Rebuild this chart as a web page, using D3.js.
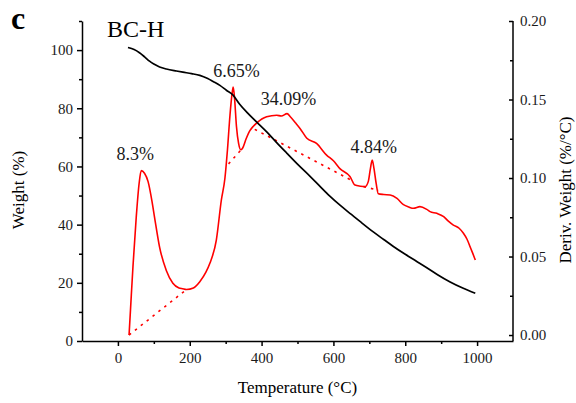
<!DOCTYPE html>
<html>
<head>
<meta charset="utf-8">
<script src="https://cdn.jsdelivr.net/npm/d3@7"></script>
<style>
  body { margin: 0; background: #fff; }
  .axis path, .axis line { stroke: #000; stroke-width: 1.5; }
</style>
</head>
<body>
<div id="chart"></div>
<script>
const serif = '"Liberation Serif", "Times New Roman", Times, serif';

// TGA curve (weight %, left axis)
const tgaTemp   = [28, 45, 60, 75, 88, 100, 116, 135, 163, 181, 205, 228, 250, 265, 285, 302, 320, 339, 360, 386, 415, 442, 470, 500, 535, 560, 590, 620, 650, 674, 711, 740, 767, 800, 830, 860, 890, 925, 960, 995];
const tgaWeight = [100.9, 100.2, 99.1, 97.6, 96.2, 95.2, 94.2, 93.5, 92.8, 92.4, 91.9, 91.3, 90.2, 89.2, 87.8, 86.2, 84.6, 81.4, 78.5, 75.3, 71.8, 68.2, 64.6, 60.8, 56.6, 53.5, 49.8, 46.5, 43.5, 41.1, 37.5, 34.9, 32.5, 29.8, 27.5, 25.2, 22.8, 20.3, 18.2, 16.4];

// DTG curve (deriv. weight %/°C, right axis)
const dtgTemp  = [31, 35, 42, 51, 59, 65, 74, 84, 95, 102, 116, 135, 153, 170, 180, 191, 210, 228, 245, 256, 274, 288, 298, 305, 312, 318, 321, 325, 330, 336, 342, 347, 357, 367, 377, 386, 414, 442, 455, 471, 480, 495, 507, 526, 553, 581, 600, 618, 646, 660, 675, 688, 697, 703, 708, 713, 719, 725, 740, 758, 777, 795, 810, 823, 841, 860, 869, 888, 907, 920, 934, 950, 962, 972, 981, 988, 995];
const dtgDeriv = [0.000, 0.016, 0.044, 0.075, 0.0965, 0.1047, 0.103, 0.0977, 0.085, 0.075, 0.056, 0.041, 0.033, 0.030, 0.0295, 0.029, 0.030, 0.034, 0.040, 0.0457, 0.0605, 0.086, 0.100, 0.118, 0.140, 0.154, 0.158, 0.150, 0.133, 0.122, 0.118, 0.119, 0.125, 0.130, 0.133, 0.135, 0.139, 0.140, 0.1395, 0.141, 0.139, 0.135, 0.1316, 0.1253, 0.122, 0.1146, 0.111, 0.106, 0.101, 0.0955, 0.0948, 0.0945, 0.0977, 0.106, 0.1115, 0.106, 0.0966, 0.090, 0.0895, 0.0892, 0.087, 0.083, 0.0815, 0.0807, 0.0818, 0.080, 0.0786, 0.0775, 0.0754, 0.0725, 0.070, 0.068, 0.0648, 0.061, 0.056, 0.052, 0.0478];

// dotted baselines under each DTG peak: [T1, D1, T2, D2]
const baselines = [
    [31, 0.000, 191, 0.029],
    [308, 0.109, 347, 0.119],
    [381, 0.131, 655, 0.098],
    [684, 0.0945, 725, 0.0923]
];

// peak labels: text, temperature, deriv value at baseline of text
const peakLabels = ["8.3%", "6.65%", "34.09%", "4.84%"];
const peakLabelT = [48, 330, 475, 712];
const peakLabelD = [0.1115, 0.1645, 0.1465, 0.1157];

const xTicks  = [0, 200, 400, 600, 800, 1000];
const yTicks  = [0, 20, 40, 60, 80, 100];
const y2Ticks = [0, 0.05, 0.10, 0.15, 0.20];

const width = 576, height = 403;
const margin = { top: 21, right: 63, bottom: 62, left: 82 };

const svg = d3.select('#chart').append('svg')
    .attr('width', width)
    .attr('height', height)
    .attr('font-family', serif)
    .style('display', 'block');

const xScale = d3.scaleLinear().domain([-100, 1100]).range([margin.left, width - margin.right]);
const yScale = d3.scaleLinear().domain([0, 110]).range([height - margin.bottom, margin.top]);
// right axis: 0.00 sits a few px above the bottom axis
const y2Scale = d3.scaleLinear().domain([-0.0038, 0.2]).range([height - margin.bottom, margin.top]);

const bottomY = height - margin.bottom;
const rightX = width - margin.right;

function styleAxis(g) {
    g.attr('font-family', serif).attr('font-size', 15);
    g.selectAll('text').attr('fill', '#1a1a1a');
}

// minor ticks first (shorter)
svg.append('g').attr('class', 'axis')
    .attr('transform', `translate(0,${bottomY})`)
    .call(d3.axisBottom(xScale).tickValues(d3.range(100, 1100, 200)).tickSize(3).tickFormat(''))
    .select('.domain').remove();
svg.append('g').attr('class', 'axis')
    .attr('transform', `translate(${margin.left},0)`)
    .call(d3.axisLeft(yScale).tickValues(d3.range(10, 111, 20)).tickSize(3).tickFormat(''))
    .select('.domain').remove();
svg.append('g').attr('class', 'axis')
    .attr('transform', `translate(${rightX},0)`)
    .call(d3.axisLeft(y2Scale).tickValues([0.025, 0.075, 0.125, 0.175]).tickSize(3).tickFormat(''))
    .select('.domain').remove();

// main axes
svg.append('g').attr('class', 'axis')
    .attr('transform', `translate(0,${bottomY})`)
    .call(d3.axisBottom(xScale).tickValues(xTicks).tickSize(5).tickSizeOuter(0).tickPadding(6).tickFormat(d3.format('d')))
    .call(styleAxis);

svg.append('g').attr('class', 'axis')
    .attr('transform', `translate(${margin.left},0)`)
    .call(d3.axisLeft(yScale).tickValues(yTicks).tickSize(5).tickSizeOuter(0).tickPadding(4))
    .call(styleAxis);

const y2Axis = svg.append('g').attr('class', 'axis')
    .attr('transform', `translate(${rightX},0)`)
    .call(d3.axisLeft(y2Scale).tickValues(y2Ticks).tickSize(4).tickSizeOuter(0).tickFormat(d3.format('.2f')))
    .call(styleAxis);
// right axis labels sit outside while the ticks point in
y2Axis.selectAll('text').attr('x', 7).style('text-anchor', 'start');
y2Axis.select('.domain').attr('d', `M0,${bottomY}V${margin.top}`);

// axis titles
svg.append('text')
    .attr('x', (margin.left + rightX) / 2)
    .attr('y', 393)
    .style('text-anchor', 'middle')
    .style('font-size', '17px')
    .text('Temperature (°C)');

svg.append('text')
    .attr('transform', 'rotate(-90)')
    .attr('x', -190)
    .attr('y', 24)
    .style('text-anchor', 'middle')
    .style('font-size', '17px')
    .text('Weight (%)');

svg.append('text')
    .attr('transform', 'rotate(-90)')
    .attr('x', -190)
    .attr('y', 571)
    .style('text-anchor', 'middle')
    .style('font-size', '17px')
    .text('Deriv. Weight (%/°C)');

// panel letter and title
svg.append('text')
    .attr('x', 11).attr('y', 29)
    .style('font-size', '32px')
    .style('font-weight', 'bold')
    .text('c');

svg.append('text')
    .attr('x', 107).attr('y', 37)
    .style('font-size', '24px')
    .text('BC-H');

// baselines
baselines.forEach(function (b) {
    svg.append('line')
        .attr('x1', xScale(b[0])).attr('y1', y2Scale(b[1]))
        .attr('x2', xScale(b[2])).attr('y2', y2Scale(b[3]))
        .style('stroke', '#ff0000')
        .style('stroke-width', 1.6)
        .style('stroke-dasharray', '2.5,5');
});

// DTG line
const dtgLine = d3.line()
    .x(function (d, i) { return xScale(dtgTemp[i]); })
    .y(function (d) { return y2Scale(d); })
    .curve(d3.curveMonotoneX);

svg.append('path')
    .attr('d', dtgLine(dtgDeriv))
    .style('fill', 'none')
    .style('stroke', '#ff0000')
    .style('stroke-width', 1.6);

// TGA line
const tgaLine = d3.line()
    .x(function (d, i) { return xScale(tgaTemp[i]); })
    .y(function (d) { return yScale(d); })
    .curve(d3.curveMonotoneX);

svg.append('path')
    .attr('d', tgaLine(tgaWeight))
    .style('fill', 'none')
    .style('stroke', '#000')
    .style('stroke-width', 1.7);

// peak labels
peakLabels.forEach(function (txt, i) {
    svg.append('text')
        .attr('x', xScale(peakLabelT[i]))
        .attr('y', y2Scale(peakLabelD[i]))
        .style('text-anchor', 'middle')
        .style('font-size', '18px')
        .style('fill', '#1a1a1a')
        .text(txt);
});
</script>
</body>
</html>
